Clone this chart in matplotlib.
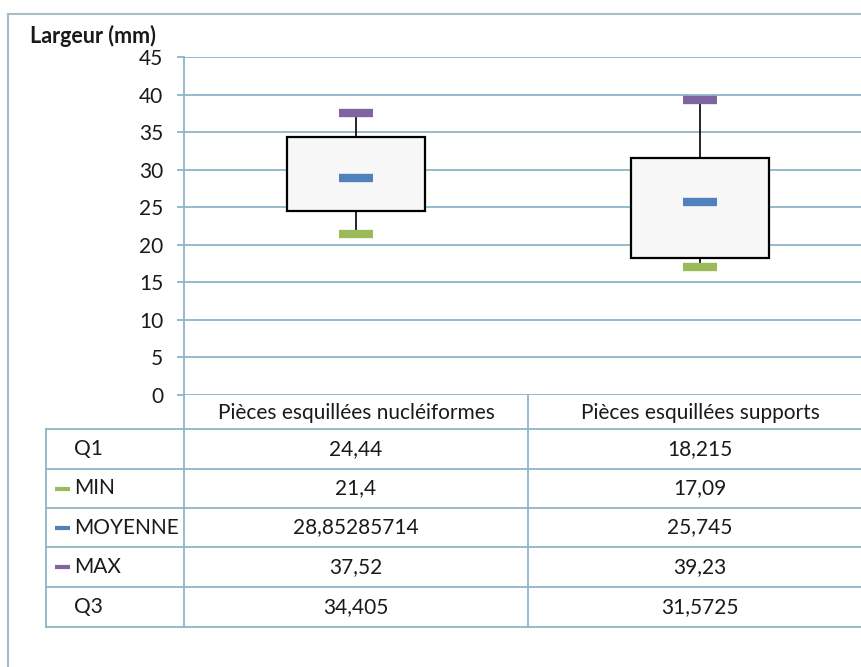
import numpy as np
import matplotlib
matplotlib.use('Agg')
import matplotlib.pyplot as plt
from matplotlib.patches import Rectangle

categories = ['Pièces esquillées nucléiformes', 'Pièces esquillées supports']
q1 = [24.44, 18.215]
vmin = [21.4, 17.09]
moyenne = [28.85285714, 25.745]
vmax = [37.52, 39.23]
q3 = [34.405, 31.5725]
y_ticks = [0, 5, 10, 15, 20, 25, 30, 35, 40, 45]

GRID = '#8fb4c9'
FRAME = '#a9bcc8'
TXT = '#1a1a1a'
C_MIN, C_MOY, C_MAX = '#9bbb59', '#4f81bd', '#8064a2'
FONT = 'Lato'
FS = 15


def fmt(v):
    return str(v).replace('.', ',')


W, H = 862, 667
fig = plt.figure(figsize=(W / 100, H / 100), dpi=100)

# overlay in pixel coords for the frame and the data table
ov = fig.add_axes([0, 0, 1, 1])
ov.set_xlim(0, W); ov.set_ylim(H, 0); ov.axis('off')

# main box chart area (right part runs off the image like the original)
x0, x1, ytop, ybot = 184, 872, 57, 395
ax = fig.add_axes([x0 / W, (H - ybot) / H, (x1 - x0) / W, (ybot - ytop) / H])
ax.set_facecolor('none')
ax.set_xlim(0, 2)
ax.set_ylim(0, 45)
ax.set_yticks(y_ticks)
ax.set_yticklabels([str(t) for t in y_ticks], fontsize=FS, family=FONT, color=TXT)
ax.set_xticks([])
for s in ['top', 'right', 'bottom']:
    ax.spines[s].set_visible(False)
ax.spines['left'].set_color(GRID)
ax.spines['left'].set_linewidth(1.3)
ax.tick_params(axis='y', length=5, width=1.3, color=GRID, pad=10)
ax.grid(axis='y', color=GRID, lw=1.3)
ax.set_axisbelow(True)

centers = np.arange(len(categories)) + 0.5
bw, dw = 0.4, 0.1
for i, c in enumerate(centers):
    ax.vlines(c, q3[i], vmax[i], color='black', lw=1.2, zorder=3)
    ax.vlines(c, vmin[i], q1[i], color='black', lw=1.2, zorder=3)
    ax.add_patch(Rectangle((c - bw / 2, q1[i]), bw, q3[i] - q1[i], facecolor='#f7f7f8',
                           edgecolor='black', lw=1.6, zorder=4))
    for val, col in [(vmin[i], C_MIN), (moyenne[i], C_MOY), (vmax[i], C_MAX)]:
        ax.hlines(val, c - dw / 2, c + dw / 2, color=col, lw=6, capstyle='butt', zorder=5)

# y axis title, placed in pixel coords of the overlay
ov.text(30, 36, 'Largeur (mm)', fontsize=15.5, family=FONT, fontweight='bold',
        ha='left', va='center', color=TXT)

# outer frame
ov.plot([8, 8], [14, H], color=FRAME, lw=1.5)
ov.plot([8, W], [14, 14], color=FRAME, lw=1.5)

# data table
row_names = ['Q1', 'MIN', 'MOYENNE', 'MAX', 'Q3']
row_vals = [q1, vmin, moyenne, vmax, q3]
row_cols = [None, C_MIN, C_MOY, C_MAX, None]
row_y = [429, 469, 508, 547, 587, 627]
col_x = [46, 184, 528, 872]
col_c = [356, 700]

for j, name in enumerate(categories):
    ov.text(col_c[j], 413, name, ha='center', va='center', fontsize=FS, family=FONT, color=TXT)
for y in row_y:
    ov.plot([col_x[0], W], [y, y], color=GRID, lw=1.3)
ov.plot([col_x[0], col_x[0]], [row_y[0], row_y[-1]], color=GRID, lw=1.3)
ov.plot([col_x[1], col_x[1]], [ybot, row_y[-1]], color=GRID, lw=1.3)
ov.plot([col_x[2], col_x[2]], [ybot, row_y[-1]], color=GRID, lw=1.3)

for r, name in enumerate(row_names):
    yc = (row_y[r] + row_y[r + 1]) / 2
    ov.text(74, yc, name, ha='left', va='center', fontsize=FS, family=FONT, color=TXT)
    if row_cols[r] is not None:
        ov.plot([55, 70], [yc, yc], color=row_cols[r], lw=3, solid_capstyle='butt')
    for j in range(len(categories)):
        ov.text(col_c[j], yc, fmt(row_vals[r][j]), ha='center', va='center', fontsize=FS,
                family=FONT, color=TXT)

fig.savefig('out.png', dpi=100)
